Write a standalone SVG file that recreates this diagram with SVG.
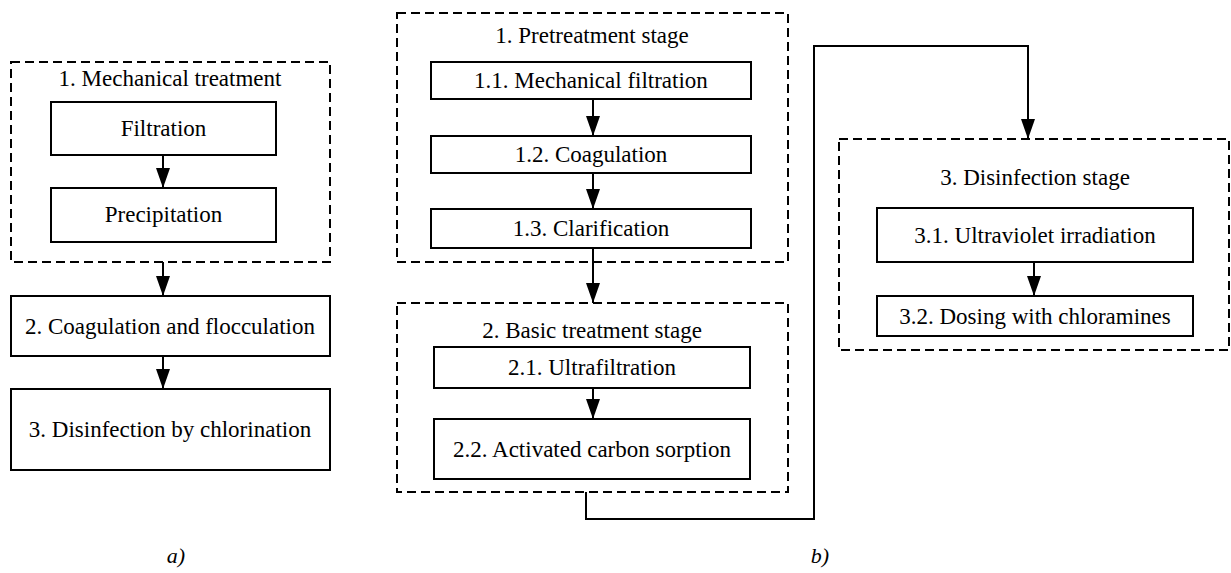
<svg xmlns="http://www.w3.org/2000/svg" width="1231" height="573" viewBox="0 0 1231 573">
<style>
text{font-family:"Liberation Serif","DejaVu Serif","Noto Serif",serif;font-size:23px;fill:#000;text-anchor:middle}
.box{fill:#fff;stroke:#000;stroke-width:2}
.grp{fill:none;stroke:#000;stroke-width:2;stroke-dasharray:9 5}
.con{fill:none;stroke:#000;stroke-width:2;marker-end:url(#ah)}
.lbl{font-style:italic;font-size:22px}
</style>
<defs>
<marker id="ah" markerUnits="userSpaceOnUse" markerWidth="20" markerHeight="14" viewBox="0 0 20 14" refX="20" refY="7" orient="auto">
<path d="M0 0 L20 7 L0 14 Z" fill="#000"/>
</marker>
</defs>
<rect width="1231" height="573" fill="#fff"/>
<g id="a-group1"><rect class="grp" x="11" y="62" width="319" height="200"/><text x="170" y="86">1. Mechanical treatment</text></g>
<g id="a-filtration"><rect class="box" x="51" y="102" width="225" height="53"/><text x="163.5" y="136">Filtration</text></g>
<g id="a-precipitation"><rect class="box" x="51" y="188" width="225" height="54"/><text x="163.5" y="222">Precipitation</text></g>
<g id="a-coag"><rect class="box" x="11" y="296" width="319" height="60"/><text x="170" y="334">2. Coagulation and flocculation</text></g>
<g id="a-disinf"><rect class="box" x="11" y="389" width="319" height="81"/><text x="170" y="437">3. Disinfection by chlorination</text></g>
<g id="b-group1"><rect class="grp" x="397" y="13" width="391" height="249"/><text x="592" y="43">1. Pretreatment stage</text></g>
<g id="b-11"><rect class="box" x="431" y="62" width="320" height="37"/><text x="591" y="88">1.1. Mechanical filtration</text></g>
<g id="b-12"><rect class="box" x="431" y="136" width="320" height="37"/><text x="591" y="162">1.2. Coagulation</text></g>
<g id="b-13"><rect class="box" x="431" y="209" width="320" height="39"/><text x="591" y="236">1.3. Clarification</text></g>
<g id="b-group2"><rect class="grp" x="397" y="303" width="391" height="189"/><text x="592" y="338">2. Basic treatment stage</text></g>
<g id="b-21"><rect class="box" x="434" y="347" width="316" height="41"/><text x="592" y="375">2.1. Ultrafiltration</text></g>
<g id="b-22"><rect class="box" x="434" y="419" width="316" height="60"/><text x="592" y="457">2.2. Activated carbon sorption</text></g>
<g id="b-group3"><rect class="grp" x="839" y="139" width="390" height="211"/><text x="1035" y="185">3. Disinfection stage</text></g>
<g id="b-31"><rect class="box" x="877" y="208" width="316" height="54"/><text x="1035" y="243">3.1. Ultraviolet irradiation</text></g>
<g id="b-32"><rect class="box" x="877" y="296" width="316" height="40"/><text x="1035" y="324">3.2. Dosing with chloramines</text></g>
<g id="connectors">
<path class="con" d="M163 155 V188"/>
<path class="con" d="M163 262 V296"/>
<path class="con" d="M163 356 V389"/>
<path class="con" d="M593 99 V136"/>
<path class="con" d="M593 173 V209"/>
<path class="con" d="M593 248 V303"/>
<path class="con" d="M593 388 V419"/>
<path class="con" d="M586 492 V519 H814 V46 H1028 V139"/>
<path class="con" d="M1034 262 V296"/>
</g>
<text class="lbl" x="176" y="563">a)</text>
<text class="lbl" x="820" y="563">b)</text>
</svg>
